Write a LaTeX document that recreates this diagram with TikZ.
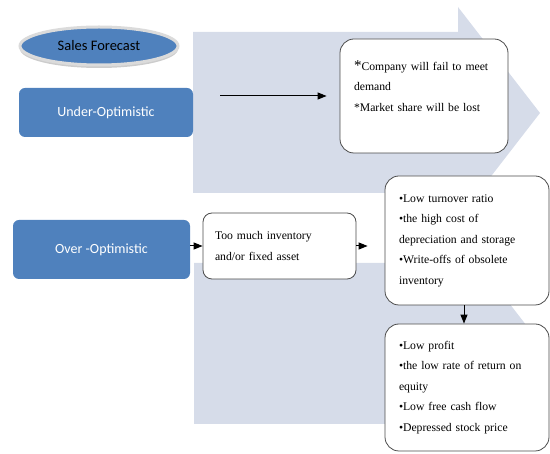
\documentclass[tikz,border=0pt]{standalone}
\usepackage{fontspec}
\setmainfont{Liberation Serif}
\newfontfamily\calibri{Carlito}
\usetikzlibrary{arrows.meta,shapes.geometric,shadows}
\definecolor{offblue}{HTML}{4F81BD}
\definecolor{arrowbg}{HTML}{D6DCE9}

\begin{document}
\begin{tikzpicture}[x=1pt, y=-1pt,
	bgarrow/.style={fill=arrowbg},
	salesell/.style={ellipse, fill=offblue, draw=black!14, line width=3pt, text=black, font=\calibri\fontsize{14.5}{16}\selectfont, inner sep=0pt, minimum width=158pt, minimum height=38pt, drop shadow={shadow xshift=0pt, shadow yshift=-3pt, opacity=0.4}},
	bluebox/.style={rectangle, rounded corners=6pt, fill=offblue, text=white, font=\calibri\fontsize{14}{16}\selectfont, inner sep=0pt},
	outbox/.style={rectangle, rounded corners=14pt, draw=black!70, line width=0.8pt, fill=white, align=left, font=\fontsize{11.7}{20.5}\selectfont, inner sep=0pt},
	conn/.style={-{Triangle[length=9pt,width=7pt]}, line width=1pt}]
	\useasboundingbox (0,0) rectangle (550,454);
	\fill[bgarrow] (193,32) -- (458,32) -- (458,7) -- (540,113) -- (458,219) -- (458,193) -- (193,193) -- cycle;
	\fill[bgarrow] (194,263) -- (458,263) -- (458,237) -- (540,343) -- (458,449) -- (458,424) -- (194,424) -- cycle;

	\node[salesell] (sales) at (99,46) {Sales Forecast\hspace{12pt}};
	\node[bluebox, minimum width=174pt, minimum height=49pt] (under) at (106,112.5) {Under-Optimistic};
	\node[bluebox, minimum width=177pt, minimum height=59pt] (over) at (101.5,249.5) {Over -Optimistic};

	\node[outbox, minimum width=168pt, minimum height=114pt, text width=140pt] (fail) at (424,96)
		{{\fontsize{15}{20.5}\selectfont *}Company will fail to meet\\ demand\\ {*}Market share will be lost\\ \mbox{}};
	\node[outbox, rounded corners=9pt, minimum width=153pt, minimum height=66pt, text width=129pt] (excess) at (279.5,246)
		{Too much inventory\\ and/or fixed asset};
	\node[outbox, minimum width=164pt, minimum height=129pt, text width=136pt] (lowturn) at (467,240.5)
		{•Low turnover ratio\\ •the high cost of\\ depreciation and storage\\ •Write-offs of obsolete\\ inventory};
	\node[outbox, minimum width=164pt, minimum height=127pt, text width=136pt] (lowprofit) at (467,387.5)
		{•Low profit\\ •the low rate of return on\\ equity\\ •Low free cash flow\\ •Depressed stock price};

	\draw[conn, shorten <=27pt, shorten >=13pt] (under.east |- fail.west) -- (fail.west);
	\draw[conn] (excess.west -| over.east) -- (excess.west);
	\draw[conn, shorten >=17pt] (excess.east) -- (excess.east -| lowturn.west);
	\draw[conn] ([xshift=-3pt]lowturn.south) -- ([xshift=-3pt]lowprofit.north);
\end{tikzpicture}
\end{document}
